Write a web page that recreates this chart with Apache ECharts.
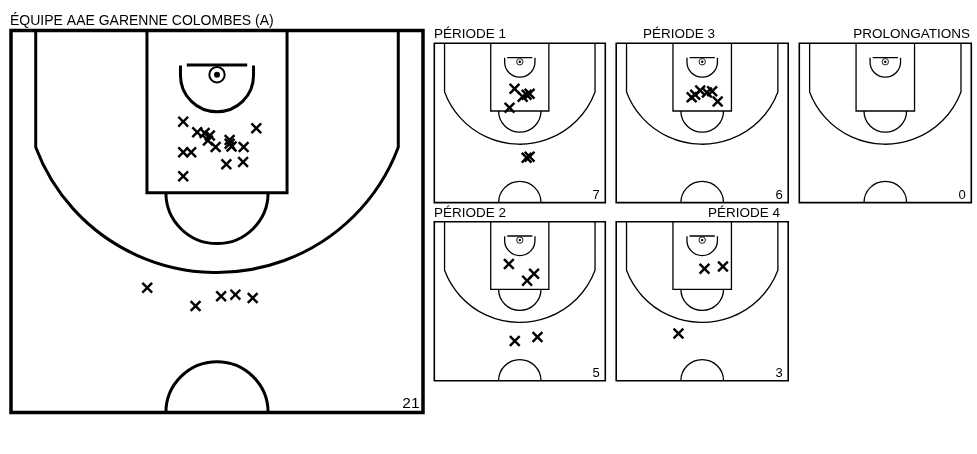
<!DOCTYPE html>
<html>
<head>
<meta charset="utf-8">
<title>Tirs AAE Garenne Colombes</title>
<script src="https://cdn.jsdelivr.net/npm/echarts@6.0.0/dist/echarts.min.js"></script>
<style>
  html, body { margin: 0; padding: 0; background: #fff; }
  #main { width: 977px; height: 454px; }
</style>
</head>
<body>
<div id="main"></div>
<script>
// positions des tirs en metres : x depuis l'axe du panier, y depuis la ligne de fond
var tirsTotal = [
  [-1.23, 3.34], [-0.72, 3.73], [-0.45, 3.76], [-0.26, 3.85], [-0.33, 4.03],
  [-0.05, 4.27], [0.46, 4.01], [0.46, 4.15], [0.53, 4.25], [0.97, 4.27],
  [1.43, 3.58], [-1.23, 4.46], [-0.94, 4.46], [0.34, 4.90], [0.95, 4.82],
  [-1.23, 5.34], [-2.54, 9.43], [-0.78, 10.1], [0.15, 9.74], [0.67, 9.68],
  [1.30, 9.80]
];
var tirsP1 = [[-0.46, 3.99], [0.25, 4.70], [0.60, 4.52], [0.86, 4.43], [-0.90, 5.66], [0.60, 10.05], [0.86, 9.96]];
var tirsP2 = [[-0.96, 3.73], [1.25, 4.58], [0.64, 5.19], [-0.44, 10.5], [1.55, 10.15]];
var tirsP3 = [[-0.92, 4.74], [-0.61, 4.52], [-0.17, 4.15], [0.41, 4.32], [0.87, 4.22], [1.35, 5.11]];
var tirsP4 = [[0.20, 4.14], [1.81, 3.95], [-2.07, 9.85]];
var tirsProlong = [];

var titres = ['ÉQUIPE AAE GARENNE COLOMBES (A)', 'PÉRIODE 1', 'PÉRIODE 3', 'PROLONGATIONS', 'PÉRIODE 2', 'PÉRIODE 4'];

// disposition des terrains
var terrains = [
  { tirs: tirsTotal, left: 11, top: 30.5, width: 412, height: 382, grand: true, tx: 10, ty: 21, align: 'left' },
  { tirs: tirsP1, left: 434.3, top: 43.3, width: 171, height: 159.3, tx: 434, ty: 34.5, align: 'left' },
  { tirs: tirsP3, left: 616.2, top: 43.3, width: 172, height: 159.3, tx: 679, ty: 34.5, align: 'center' },
  { tirs: tirsProlong, left: 799.3, top: 43.3, width: 172, height: 159.3, tx: 970, ty: 34.5, align: 'right' },
  { tirs: tirsP2, left: 434.3, top: 221.7, width: 171, height: 159, tx: 434, ty: 213.5, align: 'left' },
  { tirs: tirsP4, left: 616.2, top: 221.7, width: 172, height: 159, tx: 780, ty: 213.5, align: 'right' }
];

var CROIX = 'path://M1.8,0L6,4.2L10.2,0L12,1.8L7.8,6L12,10.2L10.2,12L6,7.8L1.8,12L0,10.2L4.2,6L0,1.8Z';

function dessinTerrain(grand) {
  var ep = grand ? 3 : 1.3;
  var epBord = grand ? 3.5 : 1.6;
  return function (params, api) {
    var P = function (x, y) { return api.coord([x, y]); };
    var o = P(0, 0);
    var ux = P(1, 0)[0] - o[0];
    var uy = Math.abs(P(0, 1)[1] - o[1]);
    var m = function (x, y) { var p = P(x, y); return 'M' + p[0] + ' ' + p[1]; };
    var l = function (x, y) { var p = P(x, y); return ' L' + p[0] + ' ' + p[1]; };
    var a = function (r, x, y, sens) {
      var p = P(x, y);
      return ' A' + r * ux + ' ' + r * uy + ' 0 0 ' + sens + ' ' + p[0] + ' ' + p[1];
    };
    var d =
      // raquette
      m(-2.55, 0) + l(-2.55, 5.95) + l(2.55, 5.95) + l(2.55, 0) +
      // ligne a 3 points
      ' ' + m(-6.6, 0) + l(-6.6, 4.28) + a(7.04, 6.6, 4.28, 0) + l(6.6, 0) +
      // planche
      ' ' + m(-1.1, 1.26) + l(1.1, 1.26) +
      // zone restrictive
      ' ' + m(-1.33, 1.28) + l(-1.33, 1.65) + a(1.33, 1.33, 1.65, 0) + l(1.33, 1.28) +
      // cercle lancer franc
      ' ' + m(-1.86, 5.95) + a(1.86, 1.86, 5.95, 0) +
      // rond central
      ' ' + m(-1.86, 14) + a(1.86, 1.86, 14, 1);
    var hg = P(-7.5, 0), bd = P(7.5, 14), panier = P(0, 1.62);
    return {
      type: 'group',
      children: [
        { type: 'rect', shape: { x: hg[0], y: hg[1], width: bd[0] - hg[0], height: bd[1] - hg[1] },
          style: { fill: 'none', stroke: '#000', lineWidth: epBord } },
        { type: 'path', shape: { pathData: d }, style: { fill: 'none', stroke: '#000', lineWidth: ep } },
        { type: 'circle', shape: { cx: panier[0], cy: panier[1], r: 0.28 * ux },
          style: { fill: 'none', stroke: '#000', lineWidth: grand ? 2 : 0.9 } },
        { type: 'circle', shape: { cx: panier[0], cy: panier[1], r: grand ? 3 : 1.2 },
          style: { fill: '#000' } }
      ]
    };
  };
}

var grids = [], xAxes = [], yAxes = [], series = [], graphics = [];
terrains.forEach(function (t, i) {
  grids.push({ left: t.left, top: t.top, width: t.width, height: t.height });
  xAxes.push({ gridIndex: i, type: 'value', min: -7.5, max: 7.5, show: false });
  yAxes.push({ gridIndex: i, type: 'value', min: 0, max: 14, inverse: true, show: false });
  series.push({
    type: 'custom', xAxisIndex: i, yAxisIndex: i, data: [[0, 0]], clip: false, silent: true, z: 1,
    renderItem: dessinTerrain(t.grand)
  });
  series.push({
    type: 'scatter', xAxisIndex: i, yAxisIndex: i, data: t.tirs, symbol: CROIX, symbolSize: 11.5,
    itemStyle: { color: '#000', opacity: 1 }, silent: true, z: 2
  });
  graphics.push({
    type: 'text', x: t.tx, y: t.ty,
    style: { text: titres[i], fill: '#000',
      font: (t.grand ? '14px' : '13.5px') + ' "Liberation Sans", Arial, sans-serif',
      textAlign: t.align, textVerticalAlign: 'middle' }
  });
  graphics.push({
    type: 'text',
    x: t.left + t.width - (t.grand ? 3.5 : 5.5),
    y: t.top + t.height - (t.grand ? 8.5 : 7.5),
    style: { text: String(t.tirs.length), fill: '#000',
      font: (t.grand ? '15.5px' : '13px') + ' "Liberation Sans", Arial, sans-serif',
      textAlign: 'right', textVerticalAlign: 'middle' }
  });
});

var chart = echarts.init(document.getElementById('main'));
chart.setOption({
  animation: false,
  backgroundColor: '#fff',
  grid: grids,
  xAxis: xAxes,
  yAxis: yAxes,
  series: series,
  graphic: graphics
});
</script>
</body>
</html>
